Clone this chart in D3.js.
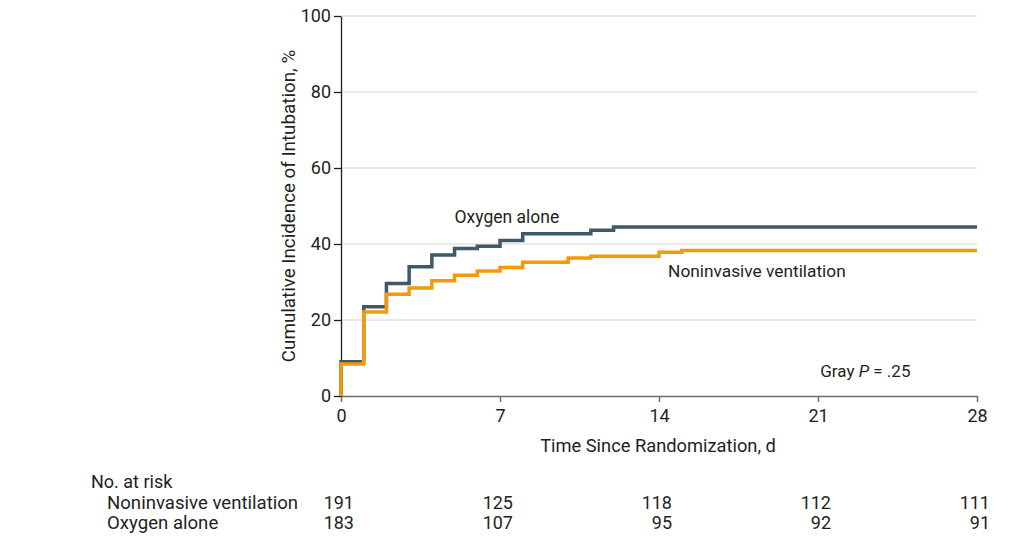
<!DOCTYPE html>
<html>
<head>
<meta charset="utf-8">
<script src="https://cdn.jsdelivr.net/npm/d3@7"></script>
<style>
  body { margin: 0; background: #fff; }
  text { font-family: "Roboto", "Liberation Sans", sans-serif; fill: #231f20; }
</style>
</head>
<body>
<div id="chart"></div>
<script>
// 1. DATA
const oxyDays = [0, 0, 1, 2, 3, 4, 5, 6, 7, 8, 11, 12, 28]
const oxyValues = [0, 9.0, 23.5, 29.6, 34.0, 37.1, 38.8, 39.4, 40.9, 42.7, 43.6, 44.5, 44.5]
const nivDays = [0, 0, 1, 2, 3, 4, 5, 6, 7, 8, 10, 11, 14, 15, 28]
const nivValues = [0, 8.4, 22.1, 26.8, 28.4, 30.3, 31.8, 32.9, 33.8, 35.2, 36.3, 36.8, 37.8, 38.3, 38.3]

const xTicks = [0, 7, 14, 21, 28]
const yTicks = [0, 20, 40, 60, 80, 100]

const riskGroups = ["Noninvasive ventilation", "Oxygen alone"]
const nivAtRisk = [191, 125, 118, 112, 111]
const oxyAtRisk = [183, 107, 95, 92, 91]

// 2. DIMENSIONS
const dimensions = {
    width: 1019,
    height: 555,
    margin: { top: 16, right: 42, bottom: 159, left: 341 }
}
dimensions.boundedWidth = dimensions.width - dimensions.margin.left - dimensions.margin.right
dimensions.boundedHeight = dimensions.height - dimensions.margin.top - dimensions.margin.bottom

// 3. DRAW CANVAS
const wrapper = d3.select("#chart")
    .append("svg")
    .attr("width", dimensions.width)
    .attr("height", dimensions.height)

const bounds = wrapper.append("g")
    .attr("transform", `translate(${dimensions.margin.left},${dimensions.margin.top})`)

// 4. SCALES
const xScale = d3.scaleLinear()
    .domain([0, 28])
    .range([0, dimensions.boundedWidth])
const yScale = d3.scaleLinear()
    .domain([0, 100])
    .range([dimensions.boundedHeight, 0])

// 5. PERIPHERALS (grid + axes)
bounds.append("g")
    .selectAll("line")
    .data(yTicks.filter(d => d > 0))
  .enter().append("line")
    .attr("x1", 0)
    .attr("x2", dimensions.boundedWidth)
    .attr("y1", d => yScale(d))
    .attr("y2", d => yScale(d))
    .attr("stroke", "#e3e3e3")
    .attr("stroke-width", 1.5)

const xAxis = bounds.append("g")
    .attr("transform", `translate(0,${dimensions.boundedHeight})`)
    .call(d3.axisBottom(xScale).tickValues(xTicks).tickSize(6).tickSizeOuter(0))
xAxis.select(".domain").attr("stroke", "#6d6e71").attr("stroke-width", 1.5)
xAxis.selectAll(".tick line").attr("stroke", "#6d6e71").attr("stroke-width", 1.5)
xAxis.selectAll(".tick text")
    .attr("dy", "0.95em")
    .style("font-size", "18px")
    .attr("fill", "#231f20")

xAxis.append("text")
    .attr("x", dimensions.boundedWidth / 2 - 1)
    .attr("y", 56)
    .attr("text-anchor", "middle")
    .style("font-size", "18.3px")
    .text("Time Since Randomization, d")

const yAxis = bounds.append("g")
    .call(d3.axisLeft(yScale).tickValues(yTicks).tickSize(7).tickSizeOuter(0))
yAxis.select(".domain").attr("stroke", "#231f20").attr("stroke-width", 1.3)
yAxis.selectAll(".tick line").attr("stroke", "#231f20").attr("stroke-width", 1.3)
yAxis.selectAll(".tick text")
    .attr("x", -10)
    .style("font-size", "18px")
    .attr("fill", "#231f20")

yAxis.append("text")
    .attr("transform", "rotate(-90)")
    .attr("x", -dimensions.boundedHeight / 2)
    .attr("y", -46)
    .attr("text-anchor", "middle")
    .style("font-size", "18.8px")
    .text("Cumulative Incidence of Intubation, %")

// 6. DRAW DATA
const stepLine = d3.line()
    .x(d => xScale(d[0]))
    .y(d => yScale(d[1]))
    .curve(d3.curveStepAfter)

bounds.append("path")
    .datum(d3.zip(oxyDays, oxyValues))
    .attr("d", stepLine)
    .attr("fill", "none")
    .attr("stroke", "#3d5a66")
    .attr("stroke-width", 3.5)

bounds.append("path")
    .datum(d3.zip(nivDays, nivValues))
    .attr("d", stepLine)
    .attr("fill", "none")
    .attr("stroke", "#f39a0a")
    .attr("stroke-width", 3.5)

// labels
bounds.append("text")
    .attr("x", xScale(5))
    .attr("y", yScale(45.5))
    .style("font-size", "17.5px")
    .text("Oxygen alone")

bounds.append("text")
    .attr("x", xScale(14.4))
    .attr("y", yScale(31.4))
    .style("font-size", "17.3px")
    .text("Noninvasive ventilation")

const pLabel = bounds.append("text")
    .attr("x", xScale(21.1))
    .attr("y", yScale(4.9))
    .style("font-size", "17px")
pLabel.append("tspan").text("Gray ")
pLabel.append("tspan").style("font-style", "italic").text("P")
pLabel.append("tspan").text(" = .25")

// 7. RISK TABLE
const table = wrapper.append("g")
table.append("text")
    .attr("x", 91)
    .attr("y", 488)
    .style("font-size", "18px")
    .text("No. at risk")

const rows = [nivAtRisk, oxyAtRisk]
rows.forEach((row, i) => {
    const rowY = 509 + i * 20
    table.append("text")
        .attr("x", 107)
        .attr("y", rowY)
        .style("font-size", "18.6px")
        .text(riskGroups[i])
    table.selectAll(null)
        .data(row)
      .enter().append("text")
        .attr("x", (d, j) => dimensions.margin.left + xScale(xTicks[j]) + 13)
        .attr("y", rowY)
        .attr("text-anchor", "end")
        .style("font-size", "18px")
        .text(d => d)
})
</script>
</body>
</html>
